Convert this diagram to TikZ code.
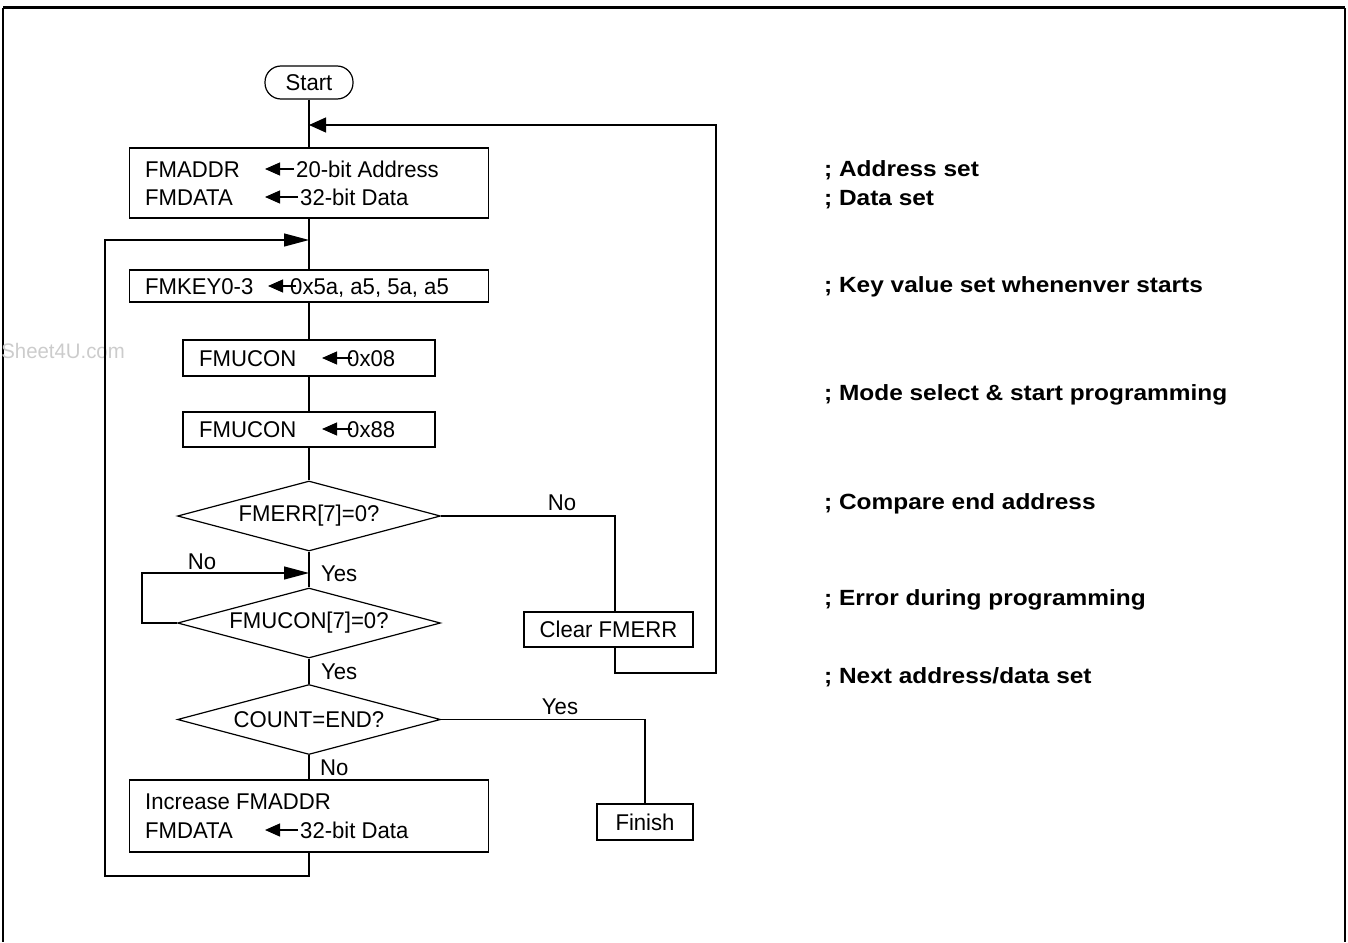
\documentclass[tikz,border=0pt]{standalone}
\usepackage{fontspec}
\setmainfont{Liberation Sans}
\newfontfamily\regf[FakeStretch=0.97]{Liberation Sans}
\newfontfamily\cmtf[FakeStretch=1.11]{Liberation Sans}
\usetikzlibrary{shapes.geometric,arrows.meta}
\begin{document}
\begin{tikzpicture}[x=1pt,y=-1pt,
  every node/.style={font=\regf\fontsize{22.8}{26}\selectfont},
  flow/.style={line width=1.2pt},
  box/.style={draw,line width=1.2pt,rectangle,inner sep=0pt},
  dec/.style={draw,line width=1.2pt,diamond,shape aspect=3.76,inner sep=0pt,minimum width=263pt,minimum height=70pt},
  txt/.style={inner sep=0pt,text height=16.3pt,text depth=0pt,anchor=west},
  lbl/.style={inner sep=0pt,text height=16.3pt,text depth=0pt},
  cmt/.style={inner sep=0pt,text height=15.7pt,text depth=0pt,anchor=west,font=\cmtf\fontsize{22}{26}\selectfont\bfseries},
  inarr/.style={line width=1.2pt,-{Triangle[length=15pt,width=13pt]}},
  larr/.style={line width=1.2pt,-{Triangle[length=17pt,width=15pt]}},
  rarr/.style={line width=1.2pt,-{Triangle[length=25pt,width=13pt]}}]
\useasboundingbox (0,0) rectangle (1348,942);
% frame
\draw[line width=3pt] (3,8) -- (1345,8);
\draw[line width=1.3pt] (3,8) -- (3,942);
\draw[line width=1.3pt] (1345,8) -- (1345,942);
% watermark
\node[inner sep=0pt,anchor=east,text=black!20,font=\regf\fontsize{21}{24}\selectfont] (wm) at (125,351) {Sheet4U.com};

% nodes
\node[box,rounded corners=16pt,minimum width=88pt,minimum height=33pt] (start) at (309,82.5) {Start};
\node[box,minimum width=359pt,minimum height=70pt] (b1) at (309,183) {};
\node[box,minimum width=359pt,minimum height=32pt] (key) at (309,286) {};
\node[box,minimum width=252pt,minimum height=36pt] (u1) at (309,358) {};
\node[box,minimum width=252pt,minimum height=35pt] (u2) at (309,429.5) {};
\node[dec] (d1) at (309,516) {FMERR[7]=0?};
\node[dec] (d2) at (309,623) {FMUCON[7]=0?};
\node[dec] (d3) at (309,719.5) {COUNT=END?};
\node[box,minimum width=359pt,minimum height=72pt] (inc) at (309,816) {};
\node[box,minimum width=169pt,minimum height=35pt] (clr) at (608.5,629.5) {Clear FMERR};
\node[box,minimum width=96pt,minimum height=36pt] (fin) at (645,822) {Finish};

% texts inside boxes
\node[txt] (t1a) at (145,169) {FMADDR};
\node[txt] (t1b) at (296,169) {20-bit Address};
\node[txt] (t1c) at (145,197) {FMDATA};
\node[txt] (t1d) at (300,197) {32-bit Data};
\coordinate (a1s) at (294,169); \coordinate (a1e) at (265,169);
\coordinate (a2s) at (298,197); \coordinate (a2e) at (265,197);
\draw[inarr] (a1s) -- (a1e);
\draw[inarr] (a2s) -- (a2e);

\node[txt] (tk1) at (145,286) {FMKEY0-3};
\node[txt] (tk2) at (290,286) {0x5a, a5, 5a, a5};
\coordinate (a3s) at (296,286); \coordinate (a3e) at (268,286);
\draw[inarr] (a3s) -- (a3e);

\node[txt] (tu1) at (199,358) {FMUCON};
\node[txt] (tu2) at (347,358) {0x08};
\coordinate (a4s) at (352,358); \coordinate (a4e) at (322,358);
\draw[inarr] (a4s) -- (a4e);

\node[txt] (tv1) at (199,429) {FMUCON};
\node[txt] (tv2) at (347,429) {0x88};
\coordinate (a5s) at (352,429); \coordinate (a5e) at (322,429);
\draw[inarr] (a5s) -- (a5e);

\node[txt] (ti1) at (145,801) {Increase FMADDR};
\node[txt] (ti2) at (145,830) {FMDATA};
\node[txt] (ti3) at (300,830) {32-bit Data};
\coordinate (a6s) at (298,830); \coordinate (a6e) at (265,830);
\draw[inarr] (a6s) -- (a6e);

% junctions
\coordinate (j1) at (309,125);
\coordinate (j2) at (309,240);
\coordinate (j3) at (309,573);
\coordinate (n1) at (615,516);
\coordinate (m1) at (615,673);
\coordinate (r1) at (716,673);
\coordinate (bl) at (105,876);
\coordinate (l3) at (142,573);
\coordinate (y1) at (645,719.5);

% connectors
\draw[flow] (start) -- (b1);
\draw[flow] (b1) -- (key);
\draw[flow] (key) -- (u1);
\draw[flow] (u1) -- (u2);
\draw[flow] (u2) -- (d1.north);
\draw[flow] (d1.south) -- (d2.north);
\draw[flow] (d2.south) -- (d3.north);
\draw[flow] (d3.south) -- (inc);
\draw[flow] (d1.east) -- (n1) -- (n1 |- clr.north);
\draw[larr] (m1 |- clr.south) -- (m1) -- (r1) |- (j1);
\draw[rarr] (inc.south) |- (bl) |- (j2);
\draw[rarr] (d2.west) -| (l3) -- (j3);
\draw[flow] (d3.east) -- (y1) -- (fin.north);

% labels
\node[lbl] (no1) at (562,502) {No};
\node[lbl,anchor=west] (yes1) at (321,573) {Yes};
\node[lbl] (no2) at (202,561) {No};
\node[lbl,anchor=west] (yes2) at (321,671) {Yes};
\node[lbl] (yes3) at (560,706) {Yes};
\node[lbl,anchor=west] (no3) at (320,767) {No};

% comments
\node[cmt] (c1) at (824,169) {; Address set};
\node[cmt] (c2) at (824,198) {; Data set};
\node[cmt] (c3) at (824,285) {; Key value set whenenver starts};
\node[cmt] (c4) at (824,393) {; Mode select \& start programming};
\node[cmt] (c5) at (824,502) {; Compare end address};
\node[cmt] (c6) at (824,598) {; Error during programming};
\node[cmt] (c7) at (824,676) {; Next address/data set};
\end{tikzpicture}
\end{document}
